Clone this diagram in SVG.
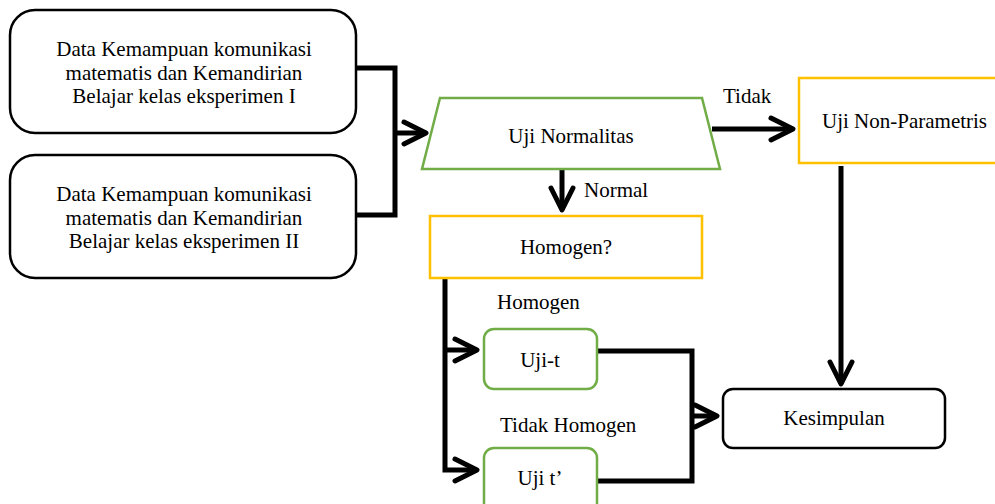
<svg xmlns="http://www.w3.org/2000/svg" width="995" height="504" viewBox="0 0 995 504">
<defs>
<style>
text{font-family:"Liberation Serif","Times New Roman",serif;font-size:21px;fill:#000}
.c{text-anchor:middle}
.blk{fill:#fff;stroke:#000;stroke-width:2.5}
.grn{fill:#fff;stroke:#70AD47;stroke-width:2.5}
.yel{fill:#fff;stroke:#FFC000;stroke-width:2.5}
.ln{fill:none;stroke:#000;stroke-width:5;stroke-linejoin:miter}
</style>
<marker id="arr" markerUnits="userSpaceOnUse" viewBox="-30 -16 36 32" markerWidth="36" markerHeight="32" refX="0" refY="0" orient="auto" overflow="visible">
<path d="M-22,-11 L0,0 L-22,11" fill="none" stroke="#000" stroke-width="5" stroke-linecap="round" stroke-linejoin="round"/>
</marker>
</defs>
<rect width="995" height="504" fill="#fff"/>
<g id="connectors">
<path class="ln" d="M355,68 H395 V215 H355"/>
<path class="ln" d="M395,133 H426" marker-end="url(#arr)"/>
<path class="ln" d="M712,129 H793" marker-end="url(#arr)"/>
<path class="ln" d="M562,169 V210" marker-end="url(#arr)"/>
<path class="ln" d="M841,166 V384" marker-end="url(#arr)"/>
<path class="ln" d="M445,278 V470 H477" marker-end="url(#arr)"/>
<path class="ln" d="M445,350 H477" marker-end="url(#arr)"/>
<path class="ln" d="M597,351 H692 V481 H597"/>
<path class="ln" d="M692,416 H717" marker-end="url(#arr)"/>
</g>
<g id="data1">
<rect class="blk" x="10" y="10" width="346" height="123" rx="25"/>
<text class="c" x="184" y="56">Data Kemampuan komunikasi</text>
<text class="c" x="184" y="79.5">matematis dan Kemandirian</text>
<text class="c" x="184" y="103">Belajar kelas eksperimen I</text>
</g>
<g id="data2">
<rect class="blk" x="10" y="155" width="346" height="123" rx="25"/>
<text class="c" x="184" y="201">Data Kemampuan komunikasi</text>
<text class="c" x="184" y="224.5">matematis dan Kemandirian</text>
<text class="c" x="184" y="248">Belajar kelas eksperimen II</text>
</g>
<g id="normalitas">
<polygon class="grn" points="440,98 702,98 720,169 422,169"/>
<text class="c" x="571" y="143">Uji Normalitas</text>
</g>
<g id="nonparam">
<rect class="yel" x="799" y="78" width="215" height="85"/>
<text x="822" y="128">Uji Non-Parametris</text>
</g>
<g id="homogen">
<rect class="yel" x="430" y="216" width="272" height="62"/>
<text class="c" x="566" y="254">Homogen?</text>
</g>
<g id="ujit">
<rect class="grn" x="484" y="329" width="113" height="60" rx="10"/>
<text class="c" x="540" y="367">Uji-t</text>
</g>
<g id="ujit2">
<rect class="grn" x="484" y="448" width="113" height="75" rx="10"/>
<text class="c" x="540" y="485">Uji t’</text>
</g>
<g id="kesimpulan">
<rect class="blk" x="723" y="389" width="222" height="59" rx="10"/>
<text class="c" x="834" y="425">Kesimpulan</text>
</g>
<g id="labels">
<text x="723" y="103">Tidak</text>
<text x="584" y="197">Normal</text>
<text x="497" y="309">Homogen</text>
<text x="500" y="432">Tidak Homogen</text>
</g>
</svg>
